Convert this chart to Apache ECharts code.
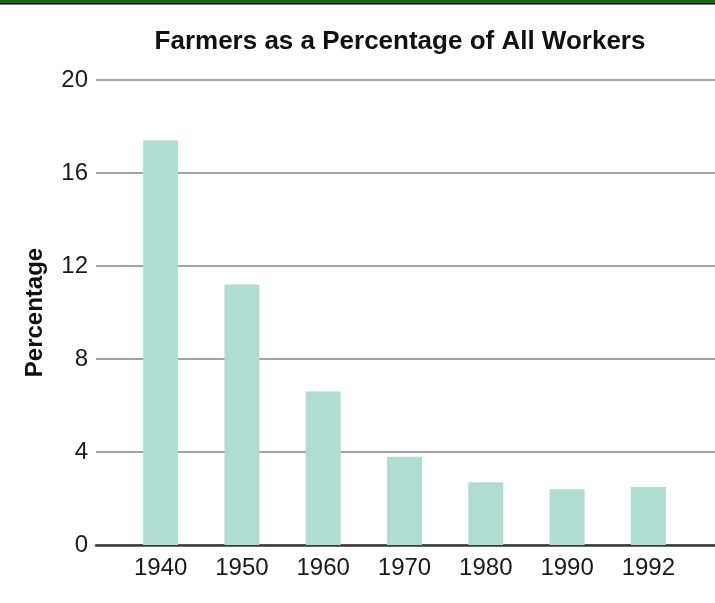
<!DOCTYPE html>
<html>
<head>
<meta charset="utf-8">
<script src="https://cdn.jsdelivr.net/npm/echarts@6/dist/echarts.min.js"></script>
<style>
  html, body { margin: 0; padding: 0; background: #fff; }
  #chart { width: 715px; height: 603px; }
</style>
</head>
<body>
<div id="chart"></div>
<script>
// Farm workers share of total employment, by year
const years = ['1940', '1950', '1960', '1970', '1980', '1990', '1992'];
const farmerPct = [17.4, 11.2, 6.6, 3.8, 2.7, 2.4, 2.5];
const yTicks = [0, 4, 8, 12, 16, 20];

const FONT = '"Liberation Sans", Arial, Helvetica, sans-serif';
const chart = echarts.init(document.getElementById('chart'), null, { renderer: 'canvas' });

const plotTop = 80, plotBottom = 58;

chart.setOption({
  animation: false,
  backgroundColor: '#ffffff',
  title: {
    text: 'Farmers as a Percentage of All Workers',
    left: 395, top: 24, textAlign: 'center',
    textStyle: { fontFamily: FONT, fontSize: 26, fontWeight: 'bold', color: '#111' }
  },
  graphic: [
    { type: 'rect', shape: { x: 0, y: 0, width: 715, height: 2.5 }, style: { fill: '#0a700a' }, z: 100 },
    { type: 'rect', shape: { x: 0, y: 2.5, width: 715, height: 2 }, style: { fill: '#000' }, z: 100 }
  ],
  grid: [
    // grid 0: bars
    { left: 120, right: 26, top: plotTop, bottom: plotBottom },
    // grid 1: full-width gridlines, baseline and value labels
    { left: 96, right: 0, top: plotTop, bottom: plotBottom }
  ],
  xAxis: [
    {
      type: 'category', gridIndex: 0, data: years,
      axisLine: { show: false }, axisTick: { show: false },
      axisLabel: { fontFamily: FONT, fontSize: 24, color: '#1a1a1a', margin: 11 }
    },
    {
      type: 'value', gridIndex: 1, min: 0, max: 1,
      axisLine: { show: true, lineStyle: { color: '#3a3a3a', width: 2.5 } },
      axisTick: { show: false }, axisLabel: { show: false }, splitLine: { show: false }
    }
  ],
  yAxis: [
    {
      type: 'value', gridIndex: 0, min: 0, max: 20, interval: 4,
      axisLine: { show: false }, axisTick: { show: false },
      axisLabel: { show: false }, splitLine: { show: false }
    },
    {
      type: 'value', gridIndex: 1, min: 0, max: 20, interval: 4,
      axisLine: { show: false }, axisTick: { show: false },
      axisLabel: {
        fontFamily: FONT, fontSize: 24, color: '#1a1a1a', margin: 8,
        formatter: v => (yTicks.includes(v) ? String(v) : '')
      },
      splitLine: { show: true, lineStyle: { color: '#a3a3a3', width: 2 } },
      name: 'Percentage', nameLocation: 'middle', nameGap: 49, nameRotate: 90,
      nameTextStyle: { fontFamily: FONT, fontSize: 24, fontWeight: 'bold', color: '#111' }
    }
  ],
  series: [
    {
      type: 'bar', xAxisIndex: 0, yAxisIndex: 0, data: farmerPct,
      barWidth: 35, z: 5,
      itemStyle: { color: '#b0ddd2' }
    }
  ]
});
</script>
</body>
</html>
